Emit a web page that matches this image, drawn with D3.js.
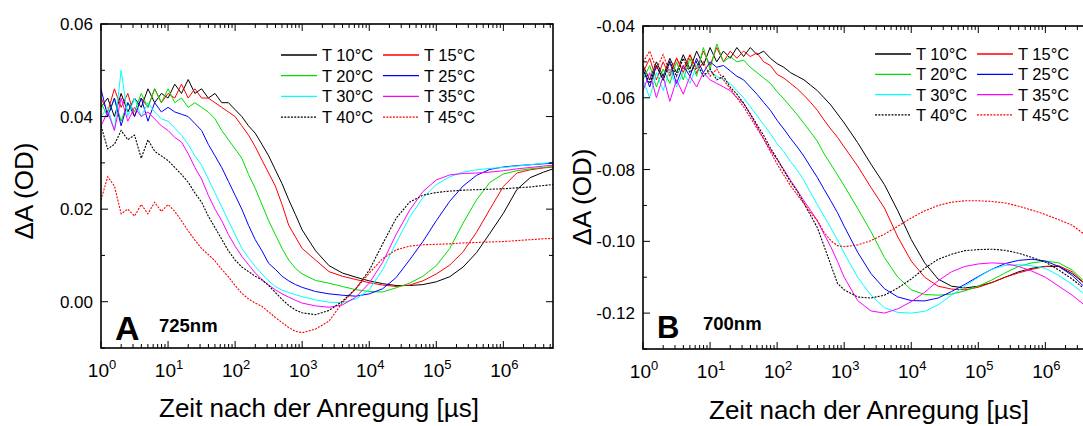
<!DOCTYPE html>
<html>
<head>
<meta charset="utf-8">
<script src="https://cdn.jsdelivr.net/npm/d3@7"></script>
<style>
  body { margin: 0; background: #fff; }
  svg { display: block; font-family: Arial, "Liberation Sans", Helvetica, sans-serif; }
</style>
</head>
<body>
<svg id="chart" width="1083" height="426" viewBox="0 0 1083 426"></svg>
<script>

/* ----- Data ----- */

// log10 of the time after excitation in us
const logTime = [0, 0.1, 0.2, 0.3, 0.4, 0.5, 0.6, 0.7, 0.8, 0.9,
                 1, 1.1, 1.2, 1.3, 1.4, 1.5, 1.6, 1.7, 1.8, 1.9,
                 2, 2.1, 2.2, 2.3, 2.4, 2.5, 2.6, 2.7, 2.8, 2.9,
                 3, 3.2, 3.4, 3.6, 3.8, 4, 4.2, 4.4, 4.6, 4.8,
                 5, 5.2, 5.4, 5.6, 5.8, 6, 6.2, 6.4, 6.6, 6.8];

const temps = ["T 10°C", "T 15°C", "T 20°C", "T 25°C", "T 30°C", "T 35°C", "T 40°C", "T 45°C"];
const colors = ["#000000", "#ff0000", "#00dd00", "#0000ff", "#00ffff", "#ff00ff", "#000000", "#ff0000"];
const dotted = [false, false, false, false, false, false, true, true];

// panel A, 725 nm, dA in mOD
const a10 = [42,44,40,45,41,44,42,46,43,45, 44,47,45,48,45,46,44,45,43,43, 41.5,40,38,36.4,34,31.5,28.5,25.5,22,18.8,
             15.5, 11,7.8,6.2,5.3,4.5,3.9,3.5,3.5,3.7, 4.3,5.4,7.5,10.6,14.8,19.1,24.2,26.8,28,29];
const a15 = [44,41,46,42,45,40,44,42,46,43, 45,44,47,44,46,44,44,43,42,41, 40,38,36,33.5,30.6,27.8,25,21,16.5,14,
             11.5, 9,6.5,5.5,4.8,4.1,3.6,3.3,3.6,4.5, 6,7.9,10.8,15,20,24.9,27.8,28.5,28.9,29.2];
const a20 = [43,40,44,39,43,41,45,42,46,43, 46,43,44,42,43,42,41,39.5,37,35, 33,31,27.5,24.5,21,17.5,14.5,11.5,9,7.2,
             6, 4.6,4,3.3,2.6,2.2,2.1,3,4,5.5, 7.8,11.5,17,22,25.8,27.6,28.3,28.7,29,29.3];
const a25 = [46,40,44,38,43,40,44,39,43,41, 42,41,40.5,40,38.5,37,34,31.5,29,26, 23,20,16.5,13.4,11,8.3,7,5.5,4.5,3.7,
             3.1, 2.2,1.7,1.4,1.2,1.7,2.8,5.2,9,13, 17.5,21.7,25,27.3,28.6,29.1,29.4,29.6,29.8,30];
const a30 = [40,42,37,50,40,44,40,43,41,39.5, 39,37.5,36,34,31.5,29.5,26.5,23.5,20.5,17.5, 14.5,11.5,9.5,7.6,6,4.5,3.3,2.5,2,1.5,
             1.1, 0.4,-0.1,-0.2,0.6,2.6,6.9,12.7,18.2,22.5, 25.3,27,28,28.5,28.8,29,29.3,29.6,29.9,30.2];
const a35 = [38,41,37,44,39,42,40,41,39.5,38, 37,35.5,34.5,32,29,26.5,23,20,17.5,14.5, 12,9.8,8,6.2,4.8,3.6,2.6,1.7,1,0.3,
             -0.3, -0.9,-1.2,-0.7,1,4,8.5,14.5,19.7,23.8, 26.3,27.4,27.7,27.8,28,28.3,28.7,29,29.3,29.6];
const a40 = [38,33,34,37,35,36,31,35,32.5,31.5, 30.5,29,27.5,25.8,23.5,21.5,18.5,16,13.5,11, 9,7.5,6.5,5.5,4.7,3.5,2,0.5,-0.8,-1.8,
             -2.4, -2.8,-1.9,0.1,2.8,6.8,12.5,18,21.5,23, 23.6,23.9,24.1,24.2,24.3,24.4,24.6,24.8,25.1,25.4];
const a45 = [22,27,25,19,20,18.5,21,19,21.5,19.5, 21,19.5,17.5,15.3,13.3,11.5,10.2,8.8,7,5.4, 3.5,1.8,0.6,-0.3,-1,-2.2,-3.4,-4.5,-5.6,-6.4,
             -6.7, -5.9,-4.2,-0.2,2.8,6.2,9.3,11.2,12,12.3, 12.4,12.5,12.7,12.8,12.9,13,13.2,13.4,13.6,13.7];

// panel B, 700 nm, dA in mOD
const b10 = [-51,-55,-50,-54,-49,-53,-48,-52,-47,-51, -46,-50,-47,-49,-46,-48.5,-46,-48,-47,-49, -50.5,-51.5,-53,-54,-55,-56.5,-58,-60,-62,-64.5,
             -67, -72.5,-78.5,-84.2,-91.5,-99.5,-106,-110.5,-112.5,-113, -112.5,-111.5,-110,-108.5,-107.5,-107,-107,-109,-112,-115];
const b15 = [-53,-49,-55,-50,-54,-49,-53,-48,-52,-47, -51,-46,-50,-47,-49,-47,-48.5,-47.5,-50,-51, -53.5,-54.5,-56,-57.5,-59.3,-61.3,-63.5,-66.2,-68.7,-71,
             -73.7, -79,-85,-90.7,-98.8,-105.5,-110,-112.5,-113.3,-113.5, -112.8,-111.5,-110,-108.8,-107.8,-107,-106.8,-108.5,-112,-115];
const b20 = [-55,-51,-57,-52,-56,-50,-55,-49,-54,-46, -52,-45,-50,-48.5,-50,-49.5,-51.5,-53,-54.5,-56, -58.3,-60.3,-62.5,-64.7,-67.1,-69.6,-72.1,-75.6,-78.5,-81.5,
             -84.5, -90.8,-97.3,-104.5,-110,-113.5,-114.8,-115,-114.7,-113.8, -112.5,-110.8,-108.8,-107,-106,-105.5,-106,-108,-111.5,-115];
const b25 = [-52,-57,-51,-55,-50,-56,-51,-54,-49,-53, -50,-51.5,-51,-52.5,-54,-55,-57,-59,-61.3,-63.5, -66.3,-68.7,-71.3,-73.7,-76.3,-79.3,-82.2,-85.5,-88.7,-92,
             -95.8, -103,-109,-113.2,-115.5,-116.5,-116.6,-115.8,-114,-112, -109.8,-107.8,-106.2,-105.3,-105,-105.5,-107,-109.5,-113,-116];
const b30 = [-55,-60,-53,-58,-52,-57,-53,-56,-51,-54, -52.5,-54,-55,-56,-58,-60,-62.5,-65,-67.5,-70, -72.8,-75,-77.8,-80.2,-83,-86.5,-89.8,-93,-96.2,-99.6,
             -103.3, -110,-115,-118.5,-119.8,-120,-119.5,-117.7,-115,-112.5, -110,-107.8,-106.7,-106.5,-106.8,-107.5,-109.5,-112,-115,-118];
const b35 = [-58,-53,-60,-54,-61,-55,-59,-54,-57,-53, -55,-56,-57,-58,-60,-61.5,-64.5,-68,-71.5,-74.5, -77.2,-80,-83,-85.8,-88.7,-91.4,-94.3,-98,-101.5,-105.6,
             -110, -116.5,-119.4,-120,-118.8,-116.8,-114.2,-111,-108.5,-107, -106.3,-106,-106.2,-107,-108.3,-110,-112.5,-115,-118,-121];
const b40 = [-52,-56,-51,-55,-50,-54,-49,-53,-50,-54, -52,-55,-54,-57,-59,-61.5,-64.5,-67.5,-70.5,-74, -77,-80.3,-83.4,-86,-89.4,-92.8,-96.2,-101.3,-106.5,-111.7,
             -113.5, -115.5,-115.8,-115,-113,-110.5,-107.5,-105,-103.6,-102.6, -102.3,-102.2,-102.5,-103.3,-104.5,-105.8,-108,-110.5,-113.5,-116.5];
const b45 = [-50,-47,-52,-48,-53,-49,-52,-48,-53,-50, -54,-52,-55,-57.5,-60,-62.5,-65.5,-68.5,-71.5,-75, -78.5,-81.5,-84.5,-87,-89.5,-92,-94.2,-97.5,-99.8,-101.2,
             -101.5, -101,-99.8,-98,-95.8,-93.5,-91.5,-90,-89.1,-88.7, -88.7,-88.9,-89.3,-90.2,-91.3,-92.5,-94,-95.5,-98.3,-100.5];

const seriesA = [a10, a15, a20, a25, a30, a35, a40, a45];
const seriesB = [b10, b15, b20, b25, b30, b35, b40, b45];

// y ticks in mOD
const yMajorA = [0, 20, 40, 60];
const yMinorA = [-10, 10, 30, 50];
const yMajorB = [-120, -100, -80, -60, -40];
const yMinorB = [-130, -110, -90, -70, -50];


/* ----- Panel layout ----- */

const panels = [
    {id: "A", series: seriesA, left: 101, right: 553, top: 24, bottom: 348,
     yDomain: [-10, 60], yMajor: yMajorA, yMinor: yMinorA,
     letter: "A", letterX: 115, letterY: 340, letterSize: 34,
     wave: "725nm", waveX: 159, waveY: 332,
     legendX: [281, 383], legendY: 55, legendStep: 20.7,
     yTitleX: 33, yTitleY: 191, xTitleX: 319, xTitleY: 417},
    {id: "B", series: seriesB, left: 643, right: 1095, top: 26, bottom: 349,
     yDomain: [-130, -40], yMajor: yMajorB, yMinor: yMinorB,
     letter: "B", letterX: 657, letterY: 338, letterSize: 31,
     wave: "700nm", waveX: 703, waveY: 330,
     legendX: [875, 977], legendY: 54, legendStep: 20.3,
     yTitleX: 591, yTitleY: 197, xTitleX: 869, xTitleY: 419}
];

const xDomain = [1, 5.5e6];

let svg = d3.select("#chart");
let defs = svg.append("defs");

panels.forEach(p => drawPanel(p));

function drawPanel(p)
{
    let g = svg.append("g").attr("class", "panel_" + p.id);

    let x = d3.scaleLog().domain(xDomain).range([p.left, p.right]);
    let y = d3.scaleLinear().domain(p.yDomain).range([p.bottom, p.top]);

    /* ----- Curves ----- */

    defs.append("clipPath")
        .attr("id", "clip" + p.id)
        .append("rect")
        .attr("x", p.left).attr("y", p.top)
        .attr("width", p.right - p.left).attr("height", p.bottom - p.top);

    let line = d3.line()
        .x(d => x(Math.pow(10, d[0])))
        .y(d => y(d[1]));

    g.append("g")
        .attr("clip-path", "url(#clip" + p.id + ")")
        .selectAll("path")
        .data(p.series)
        .enter()
        .append("path")
        .attr("fill", "none")
        .attr("stroke", (d, i) => colors[i])
        .attr("stroke-width", (d, i) => dotted[i] ? 1.1 : 1)
        .attr("stroke-dasharray", (d, i) => dotted[i] ? "2,1.3" : null)
        .attr("d", d => line(d3.zip(logTime, d)));

    /* ----- Frame and ticks (all inward) ----- */

    let xMajor = d3.range(0, 7).map(e => Math.pow(10, e)).filter(v => v <= xDomain[1]);
    let xMinor = x.ticks().filter(v => Math.abs(Math.log10(v) - Math.round(Math.log10(v))) > 1e-6);

    let ticks = g.append("g").attr("stroke", "#000").attr("stroke-width", 1);

    ticks.selectAll(".xmaj")
        .data(xMajor)
        .enter().append("path")
        .attr("d", d => `M${x(d)},${p.bottom}v-7M${x(d)},${p.top}v7`);

    ticks.selectAll(".xmin")
        .data(xMinor)
        .enter().append("path")
        .attr("d", d => `M${x(d)},${p.bottom}v-4M${x(d)},${p.top}v4`);

    ticks.selectAll(".ymaj")
        .data(p.yMajor)
        .enter().append("path")
        .attr("d", d => `M${p.left},${y(d)}h7M${p.right},${y(d)}h-7`);

    ticks.selectAll(".ymin")
        .data(p.yMinor)
        .enter().append("path")
        .attr("d", d => `M${p.left},${y(d)}h4M${p.right},${y(d)}h-4`);

    g.append("rect")
        .attr("x", p.left).attr("y", p.top)
        .attr("width", p.right - p.left).attr("height", p.bottom - p.top)
        .attr("fill", "none")
        .attr("stroke", "#000")
        .attr("stroke-width", 1.6);

    /* ----- Tick labels ----- */

    g.selectAll(".ylab")
        .data(p.yMajor)
        .enter().append("text")
        .attr("x", p.left - 8)
        .attr("y", d => y(d))
        .attr("dy", "0.36em")
        .attr("text-anchor", "end")
        .attr("font-size", 17)
        .text(d => (d / 1000).toFixed(2));

    let xlab = g.selectAll(".xlab")
        .data(xMajor)
        .enter().append("text")
        .attr("x", d => x(d) + 1)
        .attr("y", p.bottom + 29)
        .attr("text-anchor", "middle")
        .attr("font-size", 19);
    xlab.append("tspan").text("10");
    xlab.append("tspan")
        .attr("dy", -8)
        .attr("font-size", 13)
        .text(d => Math.round(Math.log10(d)));

    /* ----- Axis titles ----- */

    g.append("text")
        .attr("transform", `translate(${p.yTitleX},${p.yTitleY}) rotate(-90)`)
        .attr("text-anchor", "middle")
        .attr("font-size", 26)
        .text("\u0394A (OD)");

    g.append("text")
        .attr("x", p.xTitleX)
        .attr("y", p.xTitleY)
        .attr("text-anchor", "middle")
        .attr("font-size", 26)
        .text("Zeit nach der Anregung [\u00b5s]");

    /* ----- Panel letter and wavelength ----- */

    g.append("text")
        .attr("x", p.letterX).attr("y", p.letterY)
        .attr("font-size", p.letterSize)
        .attr("font-weight", "bold")
        .text(p.letter);

    g.append("text")
        .attr("x", p.waveX).attr("y", p.waveY)
        .attr("font-size", 18.5)
        .attr("font-weight", "bold")
        .text(p.wave);

    /* ----- Legend ----- */

    let legend = g.selectAll(".legend")
        .data(temps)
        .enter().append("g")
        .attr("transform", (d, i) =>
            `translate(${p.legendX[i % 2]},${p.legendY + Math.floor(i / 2) * p.legendStep})`);

    legend.append("line")
        .attr("x1", 0).attr("x2", 36)
        .attr("stroke", (d, i) => colors[i])
        .attr("stroke-width", (d, i) => dotted[i] ? 1.1 : 1.3)
        .attr("stroke-dasharray", (d, i) => dotted[i] ? "2,1.3" : null);

    legend.append("text")
        .attr("x", 41)
        .attr("dy", "0.36em")
        .attr("font-size", 16.5)
        .text(d => d);
}

</script>
</body>
</html>
